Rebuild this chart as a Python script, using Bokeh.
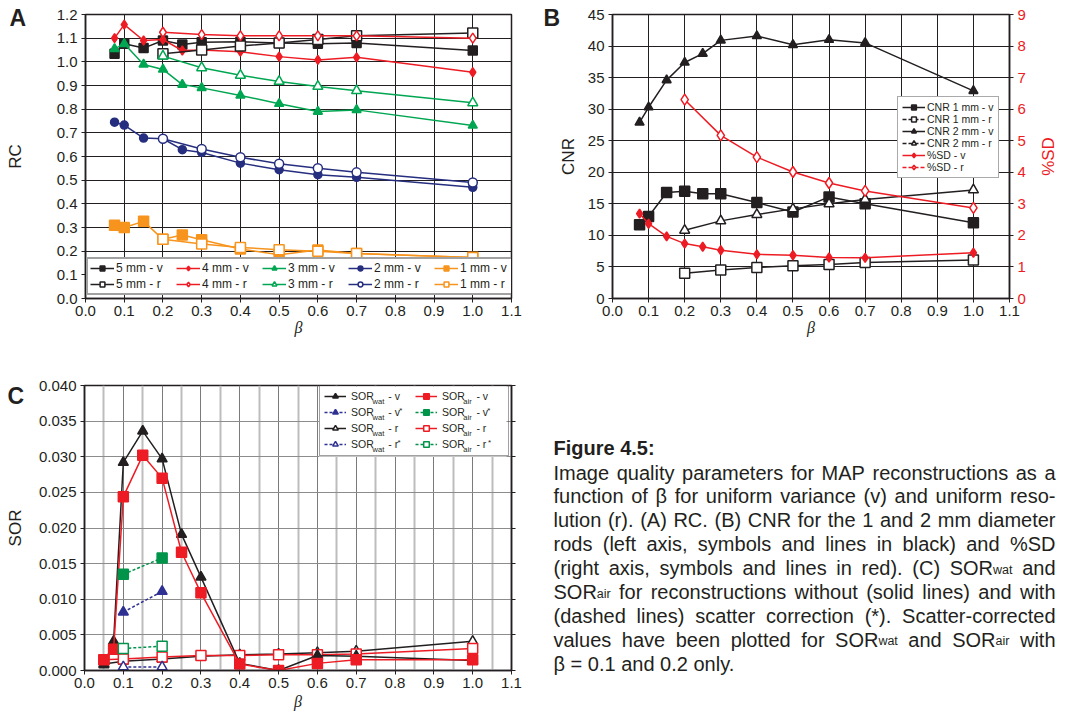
import math
import numpy as np
from bokeh.plotting import figure
from bokeh.models import (Range1d, LinearAxis, FixedTicker, Legend, LegendItem,
                          PrintfTickFormatter, ColumnDataSource)
from bokeh.layouts import row, column
from bokeh.core.properties import value
from bokeh.embed import file_html
from bokeh.resources import INLINE

FONT = "Liberation Sans"
INK = "#231f20"
RED = "#ed1c24"
GREEN = "#00a651"
NAVY = "#262e7f"
ORANGE = "#f7941d"
BLUE = "#2e3192"
DGREEN = "#00944a"

# ---------------- data: panel A (RC) ----------------
beta_v = [0.075, 0.1, 0.15, 0.2, 0.25, 0.3, 0.4, 0.5, 0.6, 0.7, 1.0]
beta_r = [0.2, 0.3, 0.4, 0.5, 0.6, 0.7, 1.0]
rc_5mm_v = [1.034, 1.076, 1.058, 1.090, 1.073, 1.083, 1.085, 1.080, 1.076, 1.080, 1.048]
rc_5mm_r = [1.034, 1.050, 1.067, 1.080, 1.094, 1.110, 1.122]
rc_4mm_v = [1.100, 1.157, 1.090, 1.094, 1.048, 1.050, 1.043, 1.022, 1.008, 1.019, 0.956]
rc_4mm_r = [1.125, 1.115, 1.110, 1.110, 1.110, 1.110, 1.100]
rc_3mm_v = [1.055, 1.076, 0.989, 0.968, 0.904, 0.890, 0.858, 0.823, 0.790, 0.797, 0.731]
rc_3mm_r = [1.024, 0.975, 0.943, 0.917, 0.896, 0.878, 0.827]
rc_2mm_v = [0.745, 0.733, 0.678, 0.675, 0.629, 0.617, 0.572, 0.544, 0.523, 0.512, 0.470]
rc_2mm_r = [0.675, 0.632, 0.597, 0.569, 0.550, 0.533, 0.490]
rc_1mm_v = [0.310, 0.300, 0.326, 0.250, 0.268, 0.248, 0.209, 0.185, 0.205, 0.190, 0.173]
rc_1mm_r = [0.250, 0.230, 0.216, 0.206, 0.200, 0.190, 0.173]

# ---------------- data: panel B (CNR, %SD) ----------------
cnr_1mm_v = [11.7, 13.0, 16.8, 17.0, 16.6, 16.6, 15.2, 13.7, 16.1, 15.0, 12.0]
cnr_1mm_r = [4.0, 4.5, 4.9, 5.2, 5.4, 5.7, 6.1]
cnr_2mm_v = [27.9, 30.3, 34.6, 37.4, 38.8, 40.9, 41.6, 40.2, 41.0, 40.5, 32.9]
cnr_2mm_r = [10.8, 12.3, 13.3, 14.2, 15.0, 15.7, 17.2]
sd_v = [2.69, 2.37, 1.97, 1.74, 1.64, 1.53, 1.40, 1.37, 1.30, 1.29, 1.45]
sd_r = [6.30, 5.17, 4.48, 4.01, 3.66, 3.41, 2.87]

# ---------------- data: panel C (SOR) ----------------
beta_c = [0.05, 0.075, 0.1, 0.15, 0.2, 0.25, 0.3, 0.4, 0.5, 0.6, 0.7, 1.0]
sor_wat_v = [0.0008, 0.0041, 0.0292, 0.0336, 0.0297, 0.0191, 0.0131, 0.0010, 0.0000, 0.0021, 0.0020, 0.0014]
sor_air_v = [0.0015, 0.0030, 0.0244, 0.0302, 0.0270, 0.0166, 0.0109, 0.0009, 0.0000, 0.0010, 0.0015, 0.0015]
beta_cr = [0.05, 0.1, 0.2, 0.3, 0.4, 0.5, 0.6, 0.7, 1.0]
sor_wat_r = [0.0009, 0.0013, 0.0016, 0.0020, 0.0022, 0.0023, 0.0025, 0.0027, 0.0041]
sor_air_r = [0.0015, 0.0016, 0.0019, 0.0021, 0.0021, 0.0022, 0.0022, 0.0023, 0.0031]
beta_sc = [0.1, 0.2]
sor_wat_v_sc = [0.0082, 0.0111]
sor_air_v_sc = [0.0135, 0.0158]
sor_wat_r_sc = [0.0005, 0.0005]
sor_air_r_sc = [0.0031, 0.0034]

# ---------------- ticks ----------------
beta_ticks = [0.0, 0.1, 0.2, 0.3, 0.4, 0.5, 0.6, 0.7, 0.8, 0.9, 1.0, 1.1]
beta_minor = [0.05, 0.15, 0.25, 0.35, 0.45, 0.55, 0.65, 0.75, 0.85, 0.95, 1.05]
rc_ticks = [0.0, 0.1, 0.2, 0.3, 0.4, 0.5, 0.6, 0.7, 0.8, 0.9, 1.0, 1.1, 1.2]
cnr_ticks = [0, 5, 10, 15, 20, 25, 30, 35, 40, 45]
sd_ticks = [0, 1, 2, 3, 4, 5, 6, 7, 8, 9]
sor_ticks = [0.000, 0.005, 0.010, 0.015, 0.020, 0.025, 0.030, 0.035, 0.040]

# ---------------- caption ----------------
caption_title = "Figure 4.5:"
caption_lines = [
    [("Image quality parameters for MAP reconstructions as a", "n")],
    [("function of \u03b2 for uniform variance (v) and uniform reso-", "n")],
    [("lution (r). (A) RC. (B) CNR for the 1 and 2 mm diameter", "n")],
    [("rods (left axis, symbols and lines in black) and %SD", "n")],
    [("(right axis, symbols and lines in red). (C) SOR", "n"), ("wat", "s"), (" and", "n")],
    [("SOR", "n"), ("air", "s"), (" for reconstructions without (solid lines) and with", "n")],
    [("(dashed lines) scatter correction (*). Scatter-corrected", "n")],
    [("values have been plotted for SOR", "n"), ("wat", "s"), (" and SOR", "n"), ("air", "s"), (" with", "n")],
    [("\u03b2 = 0.1 and 0.2 only.", "n")],
]

# Arial / Liberation Sans advance widths (1/1000 em)
AW = {' ': 278, '%': 889, '(': 333, ')': 333, '*': 389, ',': 278, '-': 333, '.': 278, ':': 278,
      '=': 584, '\u03b2': 575, '\u00a0': 278}
for ch in "0123456789":
    AW[ch] = 556
AW.update(dict(zip("ABCDEFGHIJKLMNOPQRSTUVWXYZ",
                   [667, 667, 722, 722, 667, 611, 778, 722, 278, 500, 667, 556, 833, 722, 778, 667,
                    778, 722, 667, 611, 722, 667, 944, 667, 667, 611])))
AW.update(dict(zip("abcdefghijklmnopqrstuvwxyz",
                   [556, 556, 500, 556, 556, 278, 556, 556, 222, 222, 500, 222, 833, 556, 556, 556,
                    556, 333, 500, 278, 556, 500, 722, 500, 500, 500])))


def tw(s, size):
    return sum(AW.get(ch, 556) for ch in s) / 1000.0 * size


def style_axis(ax, label_size="15px"):
    ax.axis_line_color = INK
    ax.axis_line_width = 1.5
    ax.major_tick_line_color = INK
    ax.major_tick_line_width = 1
    ax.major_tick_out = 4
    ax.major_tick_in = 0
    ax.minor_tick_line_color = None
    ax.major_label_text_font = FONT
    ax.major_label_text_font_size = label_size
    ax.major_label_text_color = INK
    ax.major_label_standoff = 4
    ax.axis_label_text_font = FONT
    ax.axis_label_text_font_size = "17px"
    ax.axis_label_text_font_style = "normal"
    ax.axis_label_text_color = INK


def beta_axis_label(ax, standoff):
    ax.axis_label = "\u03b2"
    ax.axis_label_text_font = "Liberation Serif"
    ax.axis_label_text_font_style = "italic"
    ax.axis_label_text_font_size = "16px"
    ax.axis_label_standoff = standoff
    ax.major_label_standoff = 3


def make_fig(w, h, xr, yr, left, right, top, bottom):
    p = figure(width=w, height=h, x_range=Range1d(*xr), y_range=Range1d(*yr),
               output_backend="svg", toolbar_location=None,
               min_border_left=left, min_border_right=right,
               min_border_top=top, min_border_bottom=bottom)
    p.background_fill_color = "white"
    p.border_fill_color = "white"
    p.outline_line_color = INK
    p.outline_line_width = 1.5
    return p


def make_strip(w, h):
    """A plain pixel-space figure used for panel letters, rotated axis titles and the caption."""
    p = figure(width=w, height=h, x_range=Range1d(0, w), y_range=Range1d(h, 0),
               output_backend="svg", toolbar_location=None, min_border=0,
               x_axis_type=None, y_axis_type=None, frame_align=False)
    p.outline_line_color = None
    p.background_fill_color = "white"
    p.border_fill_color = "white"
    return p


def strip_title(p, title, tx, ty, color=INK):
    p.text(x=[tx], y=[ty], text=[title], text_font=value(FONT), text_font_size=value("17px"),
           text_color=color, text_align="center", text_baseline="middle", angle=math.pi / 2)


def strip_letter(p, letter, lx, ly):
    p.text(x=[lx], y=[ly], text=[letter], text_font=value(FONT), text_font_style="bold",
           text_font_size=value("23px"), text_color=INK, text_align="left", text_baseline="top")


def add_series(p, x, y, color, marker, size, filled, dash="solid", lw=1.5, y_range_name="default"):
    src = ColumnDataSource(dict(x=np.asarray(x, dtype=float), y=np.asarray(y, dtype=float)))
    ln = p.line("x", "y", source=src, line_color=color, line_width=lw, line_dash=dash,
                y_range_name=y_range_name)
    sc = p.scatter("x", "y", source=src, marker=marker, size=size, line_color=color,
                   line_width=1.5, fill_color=color if filled else "white",
                   y_range_name=y_range_name)
    return [ln, sc]


NAN1 = [float("nan")]

# ================= Panel A =================
sA = make_strip(35, 340)
strip_letter(sA, "A", 9, 4)
strip_title(sA, "RC", 15, 156)

pA = make_fig(505, 340, (0, 1.1), (0, 1.2), 50, 29, 14, 42)
style_axis(pA.xaxis[0])
style_axis(pA.yaxis[0])
beta_axis_label(pA.xaxis[0], 0)
pA.xaxis.ticker = FixedTicker(ticks=beta_ticks)
pA.yaxis.ticker = FixedTicker(ticks=rc_ticks)
pA.xaxis.formatter = PrintfTickFormatter(format="%.1f")
pA.yaxis.formatter = PrintfTickFormatter(format="%.1f")
for g in (pA.xgrid, pA.ygrid):
    g.grid_line_color = INK
    g.grid_line_width = 1

a5v = add_series(pA, beta_v, rc_5mm_v, INK, "square", 9, True)
a4v = add_series(pA, beta_v, rc_4mm_v, RED, "diamond", 9, True)
a3v = add_series(pA, beta_v, rc_3mm_v, GREEN, "triangle", 9, True)
a2v = add_series(pA, beta_v, rc_2mm_v, NAVY, "circle", 8, True)
a1v = add_series(pA, beta_v, rc_1mm_v, ORANGE, "square", 10, True)
a5r = add_series(pA, beta_r, rc_5mm_r, INK, "square", 10, False)
a4r = add_series(pA, beta_r, rc_4mm_r, RED, "diamond", 10, False)
a3r = add_series(pA, beta_r, rc_3mm_r, GREEN, "triangle", 10, False)
a2r = add_series(pA, beta_r, rc_2mm_r, NAVY, "circle", 9, False)
a1r = add_series(pA, beta_r, rc_1mm_r, ORANGE, "square", 10, False)

legA = Legend(items=[
    LegendItem(label="5 mm - v", renderers=a5v), LegendItem(label="4 mm - v", renderers=a4v),
    LegendItem(label="3 mm - v", renderers=a3v), LegendItem(label="2 mm - v", renderers=a2v),
    LegendItem(label="1 mm - v", renderers=a1v),
    LegendItem(label="5 mm - r", renderers=a5r), LegendItem(label="4 mm - r", renderers=a4r),
    LegendItem(label="3 mm - r", renderers=a3r), LegendItem(label="2 mm - r", renderers=a2r),
    LegendItem(label="1 mm - r", renderers=a1r)],
    location=(1, 3), orientation="horizontal", ncols=5,
    glyph_width=24, glyph_height=12, label_height=12, label_width=58, label_standoff=2,
    spacing=2, padding=2, margin=0,
    label_text_font=FONT, label_text_font_size="12px", label_text_color=INK,
    border_line_color="#444444", border_line_width=2, background_fill_color="white",
    background_fill_alpha=1.0)
pA.add_layout(legA)

# ================= Panel B =================
sB = make_strip(40, 340)
strip_letter(sB, "B", 3, 4)
strip_title(sB, "CNR", 28, 156)

pB = make_fig(448, 340, (0, 1.1), (0, 45), 32, 19, 14, 42)
pB.extra_y_ranges = {"sd": Range1d(0, 9)}
style_axis(pB.xaxis[0])
style_axis(pB.yaxis[0])
beta_axis_label(pB.xaxis[0], 0)
pB.xaxis.ticker = FixedTicker(ticks=beta_ticks)
pB.yaxis.ticker = FixedTicker(ticks=cnr_ticks)
pB.xaxis.formatter = PrintfTickFormatter(format="%.1f")
pB.yaxis.formatter = PrintfTickFormatter(format="%d")
axR = LinearAxis(y_range_name="sd", ticker=FixedTicker(ticks=sd_ticks),
                 formatter=PrintfTickFormatter(format="%d"))
style_axis(axR)
axR.major_label_text_color = RED
pB.add_layout(axR, "right")
for g in (pB.xgrid, pB.ygrid):
    g.grid_line_color = INK
    g.grid_line_width = 1

b2v = add_series(pB, beta_v, cnr_2mm_v, INK, "triangle", 9, True)
b1v = add_series(pB, beta_v, cnr_1mm_v, INK, "square", 10, True)
b2r = add_series(pB, beta_r, cnr_2mm_r, INK, "triangle", 10, False)
b1r = add_series(pB, beta_r, cnr_1mm_r, INK, "square", 10, False)
bsv = add_series(pB, beta_v, sd_v, RED, "diamond", 9, True, y_range_name="sd")
bsr = add_series(pB, beta_r, sd_r, RED, "diamond", 11, False, y_range_name="sd")
# legend-only samples (the legend box draws these smaller, r entries dashed)
lb1v = add_series(pB, NAN1, NAN1, INK, "square", 9, True)
lb1r = add_series(pB, NAN1, NAN1, INK, "square", 9, False, dash="4 2")
lb2v = add_series(pB, NAN1, NAN1, INK, "triangle", 8, True)
lb2r = add_series(pB, NAN1, NAN1, INK, "triangle", 9, False, dash="4 2")
lbsv = add_series(pB, NAN1, NAN1, RED, "diamond", 7, True)
lbsr = add_series(pB, NAN1, NAN1, RED, "diamond", 9, False, dash="4 2")

legB = Legend(items=[
    LegendItem(label="CNR 1 mm - v", renderers=lb1v),
    LegendItem(label="CNR 1 mm - r", renderers=lb1r),
    LegendItem(label="CNR 2 mm - v", renderers=lb2v),
    LegendItem(label="CNR 2 mm - r", renderers=lb2r),
    LegendItem(label="%SD - v", renderers=lbsv),
    LegendItem(label="%SD - r", renderers=lbsr)],
    location=(285, 120), orientation="vertical",
    glyph_width=23, glyph_height=12, label_height=12, label_standoff=2,
    spacing=0, padding=4, margin=0,
    label_text_font=FONT, label_text_font_size="10.5px", label_text_color=INK,
    border_line_color="#555555", border_line_width=1.5, background_fill_color="white",
    background_fill_alpha=1.0)
pB.add_layout(legB)

sR = make_strip(40, 340)
strip_title(sR, "%SD", 20, 156, RED)

# ================= Panel C =================
sC = make_strip(35, 374)
strip_letter(sC, "C", 7, 42)
strip_title(sC, "SOR", 15, 187.5)

FW_C, FH_C = 428, 285
pC = make_fig(505, 374, (0, 1.1), (0, 0.040), 48, 29, 45, 44)
style_axis(pC.xaxis[0])
style_axis(pC.yaxis[0])
beta_axis_label(pC.xaxis[0], 2)
pC.xaxis.ticker = FixedTicker(ticks=beta_ticks, minor_ticks=beta_minor)
pC.yaxis.ticker = FixedTicker(ticks=sor_ticks)
pC.xaxis.formatter = PrintfTickFormatter(format="%.1f")
pC.yaxis.formatter = PrintfTickFormatter(format="%.3f")
axCR = LinearAxis(ticker=FixedTicker(ticks=sor_ticks))
style_axis(axCR)
axCR.major_label_text_color = None
axCR.major_label_standoff = 0
pC.add_layout(axCR, "right")
pC.xgrid.grid_line_color = "#7a7a7a"
pC.xgrid.grid_line_width = 1
pC.xgrid.minor_grid_line_color = "#bdbdbd"
pC.xgrid.minor_grid_line_width = 2
pC.ygrid.grid_line_color = "#8c8c8c"
pC.ygrid.grid_line_width = 1

# legend box geometry (frame pixels) for panel C
NB = "\u00a0"
LFS = 10.5
LX, LY = 235, 214
PAD, SPC, GW, GH, ST, LW = 4, 2, 22, 14, 5, 62
NROWS = 4
H = 2 * PAD + NROWS * GH + (NROWS - 1) * SPC
WL = 2 * PAD + 2 * (GW + ST + LW) + SPC


def cx(px):
    return px / FW_C * 1.1


def cy(py):
    return py / FH_C * 0.040


# white legend background, drawn under the data (the legend itself is transparent)
pC.quad(left=[cx(LX)], right=[cx(LX + WL)], bottom=[cy(LY)], top=[cy(LY + H)],
        fill_color="white", line_color=None)

cwr = add_series(pC, beta_cr, sor_wat_r, INK, "triangle", 10, False)
car = add_series(pC, beta_cr, sor_air_r, RED, "square", 10, False)
cwv = add_series(pC, beta_c, sor_wat_v, INK, "triangle", 10, True)
cav = add_series(pC, beta_c, sor_air_v, RED, "square", 10, True)
cwrs = add_series(pC, beta_sc, sor_wat_r_sc, BLUE, "triangle", 10, False, dash="3 2")
cars = add_series(pC, beta_sc, sor_air_r_sc, DGREEN, "square", 10, False, dash="3 2")
cwvs = add_series(pC, beta_sc, sor_wat_v_sc, BLUE, "triangle", 10, True, dash="3 2")
cavs = add_series(pC, beta_sc, sor_air_v_sc, DGREEN, "square", 10, True, dash="3 2")

lab_wat = "SOR" + NB * 4 + " - "
lab_air = "SOR" + NB * 3 + " - "
legC_items = [("wat", "v", True, cwv), ("wat", "v", False, cwvs), ("wat", "r", True, cwr), ("wat", "r", False, cwrs),
              ("air", "v", True, cav), ("air", "v", False, cavs), ("air", "r", True, car), ("air", "r", False, cars)]
legC = Legend(items=[LegendItem(label=(lab_wat if s == "wat" else lab_air) + k, renderers=r)
                     for s, k, plain, r in legC_items],
              location=(LX, LY), orientation="vertical", nrows=NROWS,
              glyph_width=GW, glyph_height=GH, label_height=GH, label_width=LW, label_standoff=ST,
              spacing=SPC, padding=PAD, margin=0,
              label_text_font=FONT, label_text_font_size=f"{LFS}px", label_text_color=INK,
              border_line_color="#444444", border_line_width=1.5, background_fill_color="white",
              background_fill_alpha=0.0)
pC.add_layout(legC)

# subscripts / superscripts of the legend labels
sub = dict(x=[], y=[], t=[])
sup = dict(x=[], y=[], t=[])
for i, (s, k, plain, r) in enumerate(legC_items):
    c, rr = divmod(i, NROWS)
    x0 = LX + PAD + c * (GW + ST + LW + SPC) + GW + ST
    yc = LY + H - PAD - rr * (GH + SPC) - GH / 2.0
    sub["x"].append(cx(x0 + tw("SOR", LFS)))
    sub["y"].append(cy(yc - 3.5))
    sub["t"].append(s)
    if not plain:
        lab = (lab_wat if s == "wat" else lab_air) + k
        sup["x"].append(cx(x0 + tw(lab, LFS) + (3 if s == "air" and k == "r" else 0.5)))
        sup["y"].append(cy(yc + 3))
        sup["t"].append("*")
pC.text(x="x", y="y", text="t", source=ColumnDataSource(sub), text_font=value(FONT),
        text_font_size=value("7.5px"), text_color=INK, text_baseline="middle", text_align="left")
pC.text(x="x", y="y", text="t", source=ColumnDataSource(sup), text_font=value(FONT),
        text_font_size=value("8px"), text_color=INK, text_baseline="middle", text_align="left")

# ================= Caption =================
pCap = make_strip(528, 374)

X0, LINE_W = 13, 502
SZ = {"n": 20, "s": 12.5}
BASE0, LSTEP = 132, 23.9
pcs = {"n": dict(x=[], y=[], t=[]), "s": dict(x=[], y=[], t=[])}
for li, segs in enumerate(caption_lines):
    yb = BASE0 + li * LSTEP
    words = [[]]
    for txt, st in segs:
        if st == "n":
            parts = txt.split(" ")
            for j, part in enumerate(parts):
                if j > 0:
                    words.append([])
                if part:
                    words[-1].append((part, st))
        else:
            words[-1].append((txt, st))
    words = [w for w in words if w]
    widths = [sum(tw(t, SZ[st]) for t, st in w) for w in words]
    justify = li < len(caption_lines) - 1
    gap = (LINE_W - sum(widths)) / (len(words) - 1) if justify else tw(" ", SZ["n"])
    x = X0
    for w, ww in zip(words, widths):
        xx = x
        for t, st in w:
            d = pcs[st]
            d["x"].append(xx)
            d["y"].append(yb + (1.5 if st == "s" else 0))
            d["t"].append(t)
            xx += tw(t, SZ[st])
        x += ww + gap
for st in ("n", "s"):
    pCap.text(x="x", y="y", text="t", source=ColumnDataSource(pcs[st]),
              text_font=value(FONT), text_font_size=value(f"{SZ[st]}px"),
              text_color=INK, text_baseline="alphabetic", text_align="left")
pCap.text(x=[X0], y=[BASE0 - LSTEP - 0.5], text=[caption_title], text_font=value(FONT),
          text_font_size=value("20px"), text_font_style="bold", text_color=INK,
          text_baseline="alphabetic", text_align="left")

layout = column(row(sA, pA, sB, pB, sR, spacing=0), row(sC, pC, pCap, spacing=0), spacing=0)
open("out.html", "w").write(file_html(layout, INLINE))
